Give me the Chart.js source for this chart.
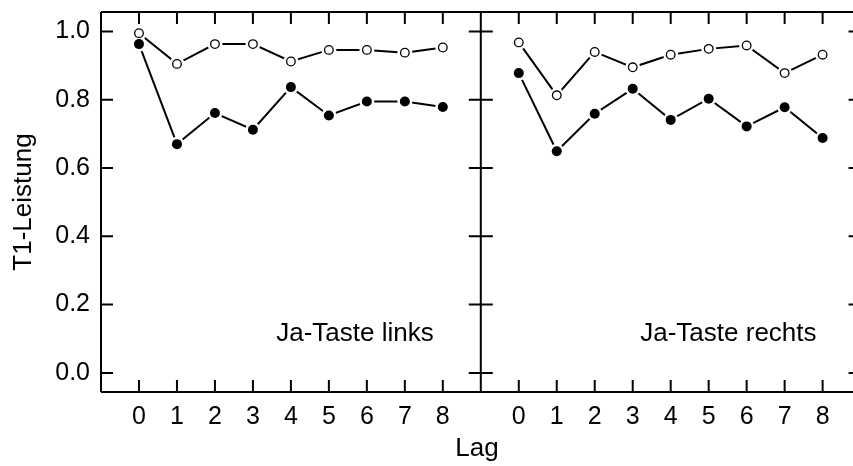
<!DOCTYPE html>
<html>
<head>
<meta charset="utf-8">
<script src="https://cdn.jsdelivr.net/npm/chart.js@4.4.1/dist/chart.umd.min.js"></script>
<style>
  html, body { margin: 0; padding: 0; background: #fff; }
  #myChart { display: block; width: 853px; height: 466px; }
</style>
</head>
<body>
<canvas id="myChart" width="853" height="466"></canvas>
<script>
// Werte
const lags = [0, 1, 2, 3, 4, 5, 6, 7, 8];
const linksOffen = [0.995, 0.905, 0.963, 0.963, 0.912, 0.946, 0.946, 0.938, 0.953];
const linksVoll = [0.963, 0.670, 0.761, 0.712, 0.837, 0.754, 0.795, 0.795, 0.779];
const rechtsOffen = [0.968, 0.813, 0.940, 0.895, 0.932, 0.949, 0.959, 0.878, 0.932];
const rechtsVoll = [0.878, 0.649, 0.759, 0.832, 0.741, 0.803, 0.722, 0.778, 0.688];
const yTicks = [0.0, 0.2, 0.4, 0.6, 0.8, 1.0];
const panelTitel = ['Ja-Taste links', 'Ja-Taste rechts'];

// rechtes Panel liegt auf der gemeinsamen x-Achse um 10 verschoben
const shift = 10;
const FONT = '"Liberation Sans", Arial, Helvetica, sans-serif';

function pts(values, offset) {
  return lags.map((l, i) => ({ x: l + offset, y: values[i] }));
}

// je Reihe: Linie, weisser Hof (Luecke), Marker
function serie(values, offset, filled) {
  const data = pts(values, offset);
  return [
    { data: data, borderColor: '#000', borderWidth: 2, pointRadius: 0, showLine: true, order: 3 },
    { data: data, showLine: false, pointRadius: 7.5, pointBackgroundColor: '#fff', pointBorderWidth: 0, order: 2 },
    { data: data, showLine: false, pointRadius: filled ? 5 : 4.3,
      pointBackgroundColor: filled ? '#000' : '#fff', pointBorderColor: '#000',
      pointBorderWidth: filled ? 0 : 1.3, order: 1 }
  ];
}

const datasets = [
  ...serie(linksOffen, 0, false),
  ...serie(linksVoll, 0, true),
  ...serie(rechtsOffen, shift, false),
  ...serie(rechtsVoll, shift, true)
];

// Rahmen, Trennlinie, Ticks nach innen, Panel-Beschriftung
// (rechter Rahmen bei x = 19 liegt knapp ausserhalb des Bildes, wie im Original)
const rahmen = {
  id: 'rahmen',
  afterDraw(chart) {
    const { ctx, chartArea: a, scales: { x, y } } = chart;
    const tl = 12;
    const xl = x.getPixelForValue(-1);
    const xd = x.getPixelForValue(9);
    const xr = x.getPixelForValue(19);
    ctx.save();
    ctx.strokeStyle = '#000';
    ctx.lineWidth = 2;
    ctx.beginPath();
    ctx.moveTo(xl, a.top); ctx.lineTo(xr, a.top);
    ctx.moveTo(xl, a.bottom); ctx.lineTo(xr, a.bottom);
    ctx.moveTo(xl, a.top); ctx.lineTo(xl, a.bottom);
    ctx.moveTo(xd, a.top); ctx.lineTo(xd, a.bottom);
    ctx.moveTo(xr, a.top); ctx.lineTo(xr, a.bottom);
    x.ticks.forEach(t => {
      const px = x.getPixelForValue(t.value);
      ctx.moveTo(px, a.top); ctx.lineTo(px, a.top + tl);
      ctx.moveTo(px, a.bottom); ctx.lineTo(px, a.bottom - tl);
    });
    y.ticks.forEach(t => {
      const py = y.getPixelForValue(t.value);
      ctx.moveTo(xl, py); ctx.lineTo(xl + tl, py);
      ctx.moveTo(xd - tl, py); ctx.lineTo(xd + tl, py);
      ctx.moveTo(xr, py); ctx.lineTo(xr - tl, py);
    });
    ctx.stroke();

    ctx.fillStyle = '#000';
    ctx.font = '26px ' + FONT;
    ctx.textAlign = 'right';
    ctx.textBaseline = 'alphabetic';
    const ty = y.getPixelForValue(0.0925);
    ctx.fillText(panelTitel[0], x.getPixelForValue(7.76), ty);
    ctx.fillText(panelTitel[1], x.getPixelForValue(17.84), ty);
    ctx.restore();
  }
};

window.onload = function () {
  const ctx = document.getElementById('myChart').getContext('2d');
  new Chart(ctx, {
    type: 'scatter',
    data: { datasets: datasets },
    options: {
      responsive: false,
      maintainAspectRatio: false,
      animation: false,
      devicePixelRatio: 1,
      layout: { autoPadding: false, padding: { top: 12, right: 0, bottom: 0, left: 0 } },
      plugins: { legend: { display: false }, tooltip: { enabled: false } },
      scales: {
        x: {
          type: 'linear',
          min: -1,
          max: 18.8,
          grid: { display: false, drawTicks: false },
          border: { display: false },
          afterBuildTicks: s => {
            s.ticks = lags.map(v => ({ value: v })).concat(lags.map(v => ({ value: v + shift })));
          },
          afterFit: s => { s.height = 74; s.paddingLeft = 0; s.paddingRight = 0; },
          ticks: {
            color: '#000',
            padding: 10,
            maxRotation: 0,
            autoSkip: false,
            font: { family: FONT, size: 25 },
            callback: v => (v >= shift ? v - shift : v)
          },
          title: {
            display: true,
            text: 'Lag',
            color: '#000',
            font: { family: FONT, size: 26 },
            padding: { top: 0, bottom: 2 }
          }
        },
        y: {
          min: -0.056,
          max: 1.057,
          grid: { display: false, drawTicks: false },
          border: { display: false },
          afterBuildTicks: s => { s.ticks = yTicks.map(v => ({ value: v })); },
          afterFit: s => { s.width = 101; s.paddingTop = 0; s.paddingBottom = 0; },
          ticks: {
            color: '#000',
            padding: 11,
            font: { family: FONT, size: 25 },
            callback: v => v.toFixed(1)
          },
          title: {
            display: true,
            text: 'T1-Leistung',
            color: '#000',
            font: { family: FONT, size: 26 },
            padding: { top: 8, bottom: 0 }
          }
        }
      }
    },
    plugins: [rahmen]
  });
};
</script>
</body>
</html>
